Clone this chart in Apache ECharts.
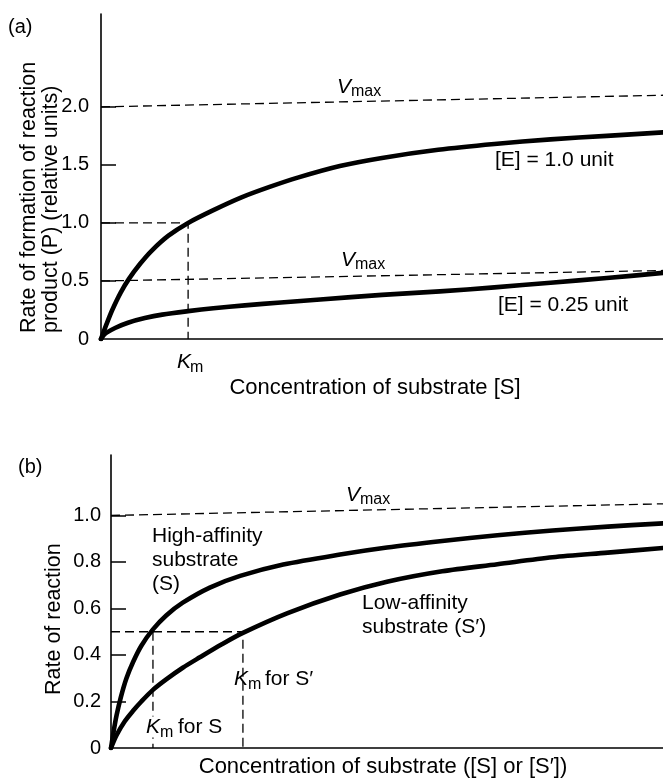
<!DOCTYPE html>
<html><head><meta charset="utf-8">
<script src="https://cdn.jsdelivr.net/npm/echarts@6/dist/echarts.min.js"></script>
<style>html,body{margin:0;padding:0;background:#fff}#c{width:663px;height:781px}</style>
</head><body><div id="c"></div>
<script>
// ---------- Panel (a) data ----------
const aTicks = [0, 0.5, 1.0, 1.5, 2.0];
const aHighX = [0, 0.1, 0.2, 0.35, 0.5, 0.7, 0.9, 1.2, 1.55, 2.0, 2.5, 3.0, 3.5, 4.25, 5, 6, 7, 8, 9, 10];
const aHighY = [0, 0.13, 0.25, 0.4, 0.52, 0.65, 0.76, 0.89, 1.0, 1.11, 1.22, 1.31, 1.39, 1.49, 1.56, 1.63, 1.68, 1.72, 1.75, 1.78];
const aLowX  = [0, 0.05, 0.1, 0.25, 0.48, 0.78, 1.09, 1.55, 2.0, 2.56, 3.2, 3.9, 5, 6.03, 7, 8, 9, 10];
const aLowY  = [0, 0.035, 0.055, 0.095, 0.14, 0.18, 0.21, 0.24, 0.265, 0.29, 0.315, 0.34, 0.38, 0.41, 0.445, 0.485, 0.525, 0.57];
const aVmaxHighX = [0, 10];
const aVmaxHighY = [2.0, 2.1];
const aVmaxLowX = [0, 10];
const aVmaxLowY = [0.5, 0.59];
const aKm = 1.55;
const aKmRate = 1.0;

// ---------- Panel (b) data ----------
const bTicks = [0, 0.2, 0.4, 0.6, 0.8, 1.0];
const bHighX = [0, 0.05, 0.1, 0.18, 0.28, 0.4, 0.55, 0.76, 1.0, 1.3, 1.79, 2.34, 3.12, 4.15, 5, 6, 7, 8, 9, 10];
const bHighY = [0, 0.075, 0.14, 0.22, 0.3, 0.37, 0.44, 0.51, 0.57, 0.625, 0.69, 0.74, 0.789, 0.832, 0.862, 0.89, 0.915, 0.935, 0.952, 0.966];
const bLowX  = [0, 0.1, 0.25, 0.4, 0.55, 0.76, 1.0, 1.3, 1.61, 2.0, 2.39, 3.2, 4.15, 5, 6, 7, 8, 9, 10];
const bLowY  = [0, 0.055, 0.115, 0.16, 0.2, 0.25, 0.295, 0.345, 0.39, 0.445, 0.495, 0.58, 0.66, 0.715, 0.76, 0.79, 0.82, 0.84, 0.86];
const bVmaxX = [0, 10];
const bVmaxY = [1.0, 1.05];
const bKmS = 0.76;
const bKmS2 = 2.39;
const bHalf = 0.5;

const zip = (xs, ys) => xs.map((x, i) => [x, ys[i]]);
const FONT = '"Liberation Sans", Arial, sans-serif';
const dash = { color: '#000', width: 1.3, type: [9, 5] };
const thick = { color: '#000', width: 4.6, cap: 'round', join: 'round' };

function curve(name, data, xi) {
  return { name, type: 'line', xAxisIndex: xi, yAxisIndex: xi, data, smooth: 0.3,
    showSymbol: false, symbol: 'none', lineStyle: thick, z: 5, silent: true };
}
function dashed(name, data, xi) {
  return { name, type: 'line', xAxisIndex: xi, yAxisIndex: xi, data, showSymbol: false,
    symbol: 'none', lineStyle: dash, z: 3, silent: true };
}
function yAx(idx, max, ticks, margin) {
  return { type: 'value', gridIndex: idx, min: 0, max: max,
    axisLine: { show: true, lineStyle: { color: '#000', width: 1.6 } },
    axisTick: { show: true, inside: true, length: 15, customValues: ticks.filter(v => v > 0),
      lineStyle: { color: '#000', width: 1.5 } },
    axisLabel: { show: true, customValues: ticks, margin: margin, color: '#000', fontSize: 20,
      fontFamily: FONT, formatter: v => v === 0 ? '0' : v.toFixed(1) },
    splitLine: { show: false } };
}
function xAx(idx) {
  return { type: 'value', gridIndex: idx, min: 0, max: 10,
    axisLine: { show: true, onZero: false, lineStyle: { color: '#000', width: 1.6 } },
    axisTick: { show: false }, axisLabel: { show: false }, splitLine: { show: false } };
}
function txt(x, y, s, opts) {
  return Object.assign({ type: 'text', x, y, z: 100,
    style: Object.assign({ text: s, fill: '#000', font: '21px ' + FONT, textAlign: 'left',
      textVerticalAlign: 'middle' }, opts || {}) });
}
function vmax(x, y) {
  return [txt(x, y, 'V', { font: 'italic 21px ' + FONT }),
          txt(x + 14, y + 5, 'max', { font: '16px ' + FONT })];
}

const chart = echarts.init(document.getElementById('c'), null, { renderer: 'canvas' });
chart.setOption({
  animation: false,
  backgroundColor: '#fff',
  grid: [
    { left: 101, top: 14, width: 562, height: 325 },
    { left: 111, top: 455, width: 552, height: 293 }
  ],
  xAxis: [xAx(0), xAx(1)],
  yAxis: [yAx(0, 2.8, aTicks, 12), yAx(1, 1.26, bTicks, 10)],
  series: [
    curve('[E] = 1.0 unit', zip(aHighX, aHighY), 0),
    curve('[E] = 0.25 unit', zip(aLowX, aLowY), 0),
    dashed('Vmax high', zip(aVmaxHighX, aVmaxHighY), 0),
    dashed('Vmax low', zip(aVmaxLowX, aVmaxLowY), 0),
    dashed('Km a', [[0, aKmRate], [aKm, aKmRate], [aKm, 0]], 0),
    curve('High-affinity substrate (S)', zip(bHighX, bHighY), 1),
    curve("Low-affinity substrate (S')", zip(bLowX, bLowY), 1),
    dashed('Vmax b', zip(bVmaxX, bVmaxY), 1),
    dashed('Km S prime', [[0, bHalf], [bKmS2, bHalf], [bKmS2, 0]], 1),
    dashed('Km S', [[bKmS, bHalf], [bKmS, 0]], 1)
  ],
  graphic: [
    txt(8, 27, '(a)', { font: '20px ' + FONT }),
    txt(18, 467, '(b)', { font: '20px ' + FONT }),
    Object.assign(txt(29, 333, 'Rate of formation of reaction', { font: '21.5px ' + FONT }), { rotation: Math.PI / 2 }),
    Object.assign(txt(51, 333, 'product (P) (relative units)', { font: '21.5px ' + FONT }), { rotation: Math.PI / 2 }),
    Object.assign(txt(54, 695, 'Rate of reaction', { font: '21.5px ' + FONT }), { rotation: Math.PI / 2 }),
    ...vmax(337, 87),
    ...vmax(341, 260),
    ...vmax(346, 495),
    txt(495, 160, '[E] = 1.0 unit'),
    txt(498, 305, '[E] = 0.25 unit'),
    txt(177, 362, 'K', { font: 'italic 21px ' + FONT }),
    txt(190, 368, 'm', { font: '16px ' + FONT }),
    txt(375, 388, 'Concentration of substrate [S]', { textAlign: 'center', font: '22px ' + FONT }),
    txt(383, 767, "Concentration of substrate ([S] or [S\u2032])", { textAlign: 'center', font: '22px ' + FONT }),
    txt(152, 560, 'High-affinity\nsubstrate\n(S)', { lineHeight: 24 }),
    txt(362, 615, 'Low-affinity\nsubstrate (S\u2032)', { lineHeight: 24 }),
    txt(234, 679, 'K', { font: 'italic 21px ' + FONT }),
    txt(248, 685, 'm', { font: '16px ' + FONT }),
    txt(265, 679, 'for S\u2032'),
    txt(146, 727, 'K', { font: 'italic 21px ' + FONT, backgroundColor: '#fff' }),
    txt(160, 733, 'm', { font: '16px ' + FONT }),
    txt(178, 727, 'for S')
  ]
});
</script>
</body></html>
